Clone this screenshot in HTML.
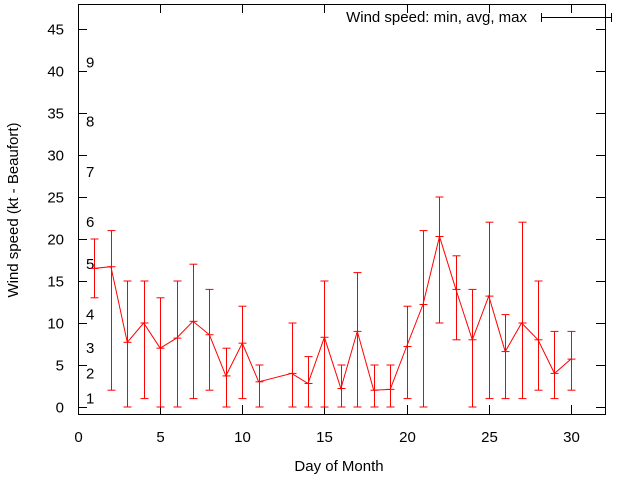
<!DOCTYPE html>
<html><head><meta charset="utf-8"><style>
body{margin:0;background:#fff}
svg{display:block;font-family:"Liberation Sans",sans-serif;font-size:15px}
</style></head><body>
<svg id="chart" width="640" height="480" xmlns="http://www.w3.org/2000/svg">
<rect x="78.5" y="4.5" width="527" height="410" fill="none" stroke="#000"/>
<g id="axes"></g>
<g id="beaufort"></g>
<g id="series"></g>
<text transform="translate(18,210) rotate(-90)" text-anchor="middle">Wind speed (kt - Beaufort)</text>
<text x="339" y="471" text-anchor="middle">Day of Month</text>
<g>
<text x="527" y="22" text-anchor="end">Wind speed: min, avg, max</text>
<line x1="541" y1="17.5" x2="612" y2="17.5" stroke="#000"/>
<line x1="541.5" y1="13" x2="541.5" y2="22" stroke="#000"/>
<line x1="611.5" y1="13" x2="611.5" y2="22" stroke="#000"/>
</g>
</svg>
<script>
const days=[1,2,3,4,5,6,7,8,9,10,11,13,14,15,16,17,18,19,20,21,22,23,24,25,26,27,28,29,30];
const avgs=[16.5,16.7,7.7,10,7,8.2,10.2,8.6,3.7,7.6,3,4,2.8,8.3,2.2,9,2,2.1,7.2,12.2,20.3,14,8,13.2,6.6,10,8,4,5.7];
const mins=[13,2,0,1,0,0,1,2,0,1,0,0,0,0,0,0,0,0,1,0,10,8,0,1,1,1,2,1,2];
const maxs=[20,21,15,15,13,15,17,14,7,12,5,10,6,15,5,16,5,5,12,21,25,18,14,22,11,22,15,9,9];
const xTicks=[0,5,10,15,20,25,30];
const yTicks=[0,5,10,15,20,25,30,35,40,45];
const bftLabels=["1","2","3","4","5","6","7","8","9"];
const bftKt=[1,4,7,11,17,22,28,34,41];
const NS="http://www.w3.org/2000/svg";
const X=v=>78+v*16.43, Y=v=>407-v*8.4;
function mk(tag,attrs,parent){const e=document.createElementNS(NS,tag);for(const k in attrs)e.setAttribute(k,attrs[k]);parent.appendChild(e);return e;}
const axes=document.getElementById('axes');
xTicks.forEach(t=>{
  const x=Math.round(X(t))+0.5;
  const l1=mk('line',{x1:x,x2:x,y1:414,y2:405,stroke:'#000'},axes);
  
  
  const l2=mk('line',{x1:x,x2:x,y1:4,y2:13,stroke:'#000'},axes);
  
  
  const tx=mk('text',{x:x,y:442,'text-anchor':'middle'},axes);tx.textContent=t;
  
  
});
yTicks.forEach(t=>{
  const y=Math.round(Y(t))+0.5;
  const l1=mk('line',{x1:78,x2:87,y1:y,y2:y,stroke:'#000'},axes);
  
  
  const l2=mk('line',{x1:596,x2:605,y1:y,y2:y,stroke:'#000'},axes);
  
  
  const tx=mk('text',{x:64,y:y+5,'text-anchor':'end'},axes);tx.textContent=t;
  
  
});
const bg=document.getElementById('beaufort');
bftLabels.forEach((b,i)=>{
  const tx=mk('text',{x:86,y:Y(bftKt[i])+5},bg);tx.textContent=b;
  
  
});
const sg=document.getElementById('series');
const pts=days.map((d,i)=>X(d).toFixed(1)+','+Y(avgs[i]).toFixed(1)).join(' ');
const pl=mk('polyline',{points:pts,fill:'none',stroke:'#f00'},sg);


days.forEach((d,i)=>{
  const x=Math.round(X(d))+0.5;
  const g=mk('g',{stroke:'#f00'},sg);
  
  
  mk('line',{x1:x,x2:x,y1:Y(mins[i]),y2:Y(maxs[i])},g);
  mk('line',{x1:x-4,x2:x+4,y1:Y(mins[i]),y2:Y(mins[i])},g);
  mk('line',{x1:x-4,x2:x+4,y1:Y(maxs[i]),y2:Y(maxs[i])},g);
  mk('line',{x1:x-4,x2:x+4,y1:Y(avgs[i]),y2:Y(avgs[i])},g);
});
</script>
</body></html>
